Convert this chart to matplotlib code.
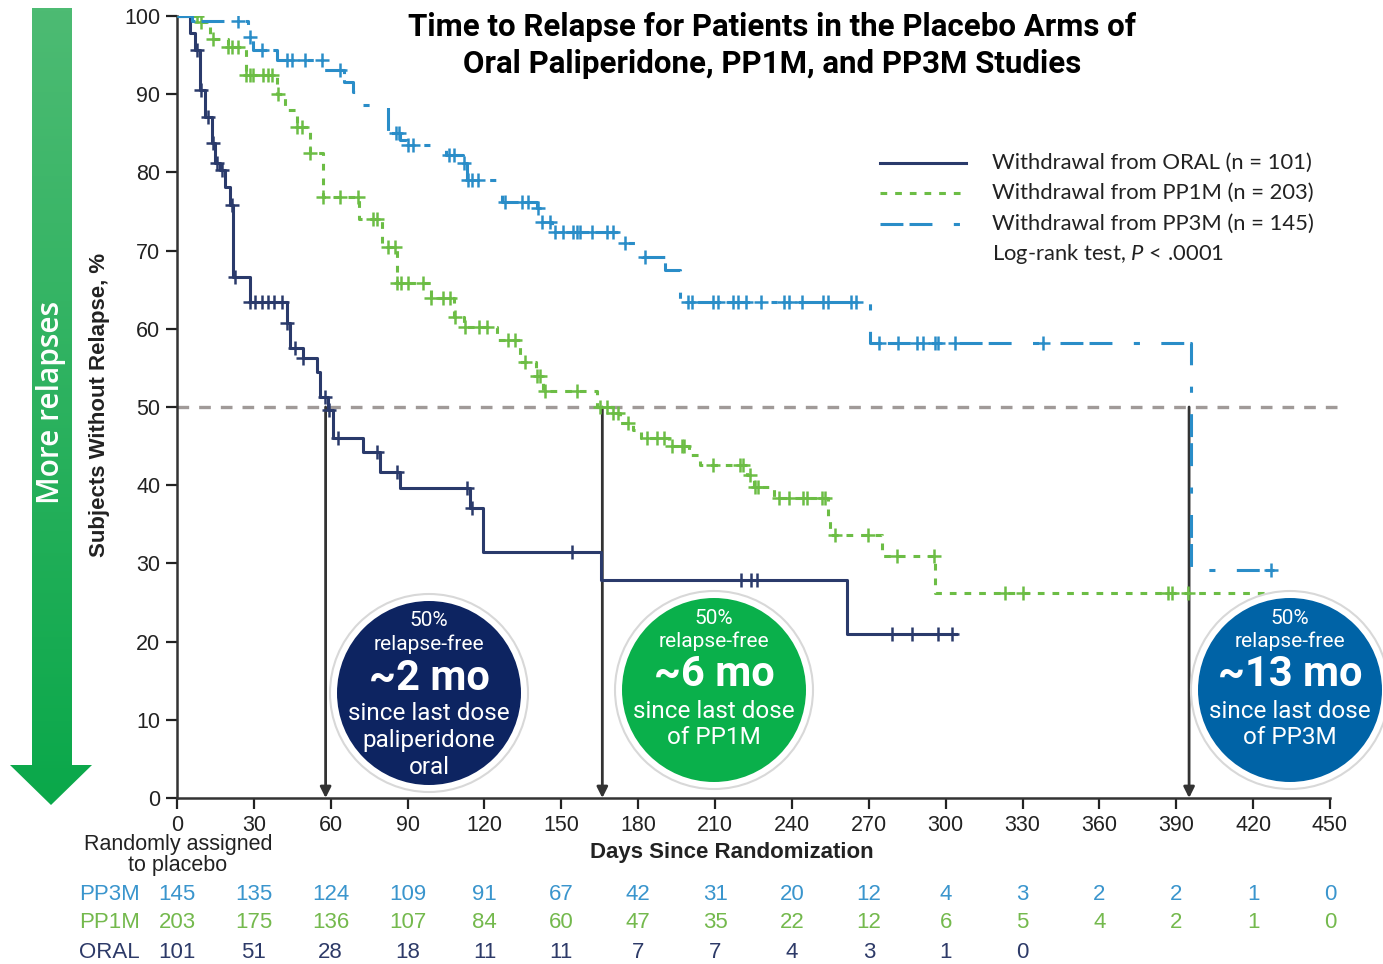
import numpy as np
import matplotlib
matplotlib.use("Agg")
import matplotlib.pyplot as plt
from matplotlib.patches import Circle, Polygon
from matplotlib.transforms import blended_transform_factory

plt.rcParams['font.family'] = ['Liberation Sans', 'DejaVu Sans']
plt.rcParams['mathtext.fontset'] = 'custom'
plt.rcParams['mathtext.it'] = 'Lato:italic'
plt.rcParams['mathtext.rm'] = 'Lato'

# Kaplan-Meier steps (day, % without relapse)
oral_t = [0, 5, 7, 9, 11, 13.6, 14.8, 16.8, 18.7, 20.7, 21.9, 28.5, 43, 44, 49, 54.6, 56, 59, 61,
          72.6, 79.2, 87, 114.4, 119.4, 165.5, 261.5, 304]
oral_s = [100, 97.8, 95.7, 90.5, 87.1, 83.8, 81.2, 80.3, 78.1, 75.8, 66.6, 63.4, 60.7, 57.5, 56.3,
          54.5, 51.3, 49.6, 46.0, 44.2, 41.7, 39.6, 37.1, 31.5, 27.9, 21.0, 21.0]
oral_cens = [7.8, 9.5, 12, 14, 15.5, 17.5, 21.5, 22.5, 28.5, 30.5, 33, 35.5, 38, 41, 43, 46, 49,
             57.8, 59.5, 63, 78, 86, 113, 115, 154, 220, 224, 226.5, 279, 287, 297, 302.5]

pp1m_t = [0, 9, 13, 20, 27, 39, 42, 47, 52, 57, 71, 80, 86, 99, 108, 112, 125, 134, 140, 143, 164,
          170, 173, 178, 181, 192, 200, 204, 222.5, 225, 233, 254, 255, 275, 296, 442]
pp1m_s = [100, 99.2, 97.0, 96.0, 92.5, 90.0, 88.0, 85.8, 82.5, 76.9, 74.0, 70.5, 65.8, 64.0, 61.5,
          60.2, 58.6, 55.8, 54.0, 52.0, 50.0, 49.2, 48.0, 47.0, 46.0, 45.0, 43.8, 42.6, 41.3, 39.8,
          38.4, 36.0, 33.6, 31.0, 26.2, 26.2]
pp1m_cens = [7.8, 9.5, 14, 20, 21.5, 24, 27, 28.5, 29.7, 33.6, 35.5, 37, 39.4, 47, 48.8, 52, 57,
             63.6, 70.7, 76.5, 78, 82.4, 85, 86, 87.5, 90, 96, 99, 104, 106.5, 108.5, 112.4, 118,
             121, 129, 132, 136, 140.5, 141.5, 143.6, 156, 165, 168, 170, 172, 176, 183.5, 187.3,
             190, 193, 197, 198, 209, 219.7, 221, 223.6, 225.6, 226.8, 235, 239, 244.3, 246, 251.8,
             253, 257, 269.7, 281, 295.5, 323, 330, 386.8, 388.4, 394.6]

pp3m_t = [0, 6, 27.7, 29.7, 39, 57, 65, 68.7, 72.6, 82.4, 87, 89.8, 105, 111.6, 113, 127, 140.5,
          141.5, 146.4, 174, 181.5, 190.5, 196.3, 270.5, 395.8, 428]
pp3m_s = [100, 99.3, 97.3, 95.6, 94.4, 93.1, 91.6, 90.3, 88.6, 85.0, 84.1, 83.5, 82.2, 81.2, 79.0,
          76.2, 75.4, 73.7, 72.4, 71.0, 69.2, 67.5, 63.4, 58.2, 29.2, 29.2]
pp3m_cens = [23.8, 28.5, 33, 43, 45, 50, 56.6, 63.6, 85.5, 86.5, 90, 92, 106, 108, 112, 113.5, 115,
             117.5, 128, 134.6, 137, 140.8, 142.5, 145.6, 147.5, 150.7, 154.6, 156, 157.3, 162, 168,
             170, 175, 182.7, 199.5, 201, 209, 211, 217, 219, 222, 228, 237, 239, 244, 252, 254,
             263, 265, 274, 281.5, 289, 291, 296, 297, 303.6, 338, 427]

medians = [58, 166, 395]

risk_days = list(range(0, 451, 30))
risk_pp3m = [145, 135, 124, 109, 91, 67, 42, 31, 20, 12, 4, 3, 2, 2, 1, 0]
risk_pp1m = [203, 175, 136, 107, 84, 60, 47, 35, 22, 12, 6, 5, 4, 2, 1, 0]
risk_oral = [101, 51, 28, 18, 11, 11, 7, 7, 4, 3, 1, 0]

c_oral = '#2a3a6b'
c_pp1m = '#6cbd45'
c_pp3m = '#2a8dc8'
dash_pp1m = (2.2, 2.6)
dash_pp3m = (7.5, 2.0, 7.5, 7.0, 2.0, 7.0)


def surv_at(t, s, x):
    i = np.searchsorted(t, x, side='right') - 1
    return np.asarray(s)[i]


fig = plt.figure(figsize=(13.83, 9.64), dpi=100)
W, H = 1383, 964
ax = fig.add_axes([177 / W, 1 - 798 / H, 1153 / W, 782 / H])

series = [
    (oral_t, oral_s, oral_cens, c_oral, None),
    (pp1m_t, pp1m_s, pp1m_cens, c_pp1m, dash_pp1m),
    (pp3m_t, pp3m_s, pp3m_cens, c_pp3m, dash_pp3m),
]
for t, s, cens, col, dash in series:
    ln, = ax.step(t, s, where='post', color=col, lw=2.2, zorder=3)
    if dash is not None:
        ln.set_dashes(dash)
    ax.plot(cens, surv_at(t, s, cens), ls='none', marker='+', ms=10, mew=1.8,
            color=col, zorder=3)

# 50 % reference line and median arrows
ax.plot([0, 454], [50, 50], color='#a09a98', lw=2.4, dashes=(3.5, 3.0), clip_on=False, zorder=1)
for d in medians:
    ax.annotate('', xy=(d, 0), xytext=(d, 50),
                arrowprops=dict(arrowstyle='-|>', color='#333333', lw=2, mutation_scale=16,
                                shrinkA=0, shrinkB=0), zorder=2)

ax.set_xlim(0, 450)
ax.set_ylim(0, 100)
ax.set_xticks(risk_days)
ax.set_yticks(range(0, 101, 10))
ax.tick_params(labelsize=15.5, length=8, width=1.6, colors='#222222', pad=4)
for side in ['top', 'right']:
    ax.spines[side].set_visible(False)
for side in ['left', 'bottom']:
    ax.spines[side].set_linewidth(1.8)
    ax.spines[side].set_color('#333333')

ax.set_ylabel('Subjects Without Relapse, %', fontsize=16, fontweight='bold', color='#222222')
ax.yaxis.set_label_coords((110 - 177) / 1153, (798 - 405) / 782)
ax.set_xlabel('Days Since Randomization', fontsize=16, fontweight='bold', color='#222222')
ax.xaxis.set_label_coords((732 - 177) / 1153, (798 - 842) / 782)

# number at risk
tr = blended_transform_factory(ax.transData, fig.transFigure)
fig.text(178 / W, 1 - 855 / H, 'Randomly assigned\nto placebo', ha='center', va='center',
         fontsize=15.5, color='#222222', linespacing=0.95)
rows = [('PP3M', risk_pp3m, '#3a95cd', 894), ('PP1M', risk_pp1m, '#74b94d', 923),
        ('ORAL', risk_oral, '#2d3a68', 952)]
for name, vals, col, yp in rows:
    fig.text(79 / W, 1 - yp / H, name, ha='left', va='center', fontsize=16, color=col)
    for d, v in zip(risk_days, vals):
        ax.text(d, 1 - yp / H, str(v), transform=tr, ha='center', va='center', fontsize=16,
                color=col)

# overlay in pixel coordinates for the decorations
ov = fig.add_axes([0, 0, 1, 1], zorder=5)
ov.set_xlim(0, W)
ov.set_ylim(H, 0)
ov.axis('off')
ov.patch.set_alpha(0)

# green arrow with gradient
arrow_pts = [(32, 8), (72, 8), (72, 765), (92, 765), (51, 805), (10, 765), (32, 765)]
poly = Polygon(arrow_pts, closed=True, facecolor='none', edgecolor='none')
ov.add_patch(poly)
grad = np.linspace(0, 1, 256).reshape(-1, 1)
cmap = matplotlib.colors.LinearSegmentedColormap.from_list('g', ['#4dbb73', '#0aa84a'])
im = ov.imshow(grad, extent=[10, 92, 805, 8], cmap=cmap, aspect='auto', zorder=1)
im.set_clip_path(poly)
ov.text(51, 402, 'More relapses', rotation=90, ha='center', va='center', color='white',
        fontsize=21.5, fontweight='semibold', family='Open Sans')

# title
ov.text(772, 27, 'Time to Relapse for Patients in the Placebo Arms of', ha='center',
        va='center', fontsize=22.5, fontweight='bold', family='Roboto', color='black')
ov.text(772, 64, 'Oral Paliperidone, PP1M, and PP3M Studies', ha='center', va='center',
        fontsize=22.5, fontweight='bold', family='Roboto', color='black')

# legend
leg = [(c_oral, None, 'Withdrawal from ORAL (n = 101)', 163),
       (c_pp1m, dash_pp1m, 'Withdrawal from PP1M (n = 203)', 193),
       (c_pp3m, dash_pp3m, 'Withdrawal from PP3M (n = 145)', 224)]
for col, dash, lab, yp in leg:
    ln, = ov.plot([880, 966], [yp, yp], color=col, lw=2.2)
    if dash is not None:
        ln.set_dashes(dash)
    ov.text(992, yp, lab, ha='left', va='center', fontsize=15.8, family='Lato', color='#222222')
ov.text(992, 254, 'Log-rank test, $P$ < .0001', ha='left', va='center', fontsize=15.8,
        family='Lato', color='#222222')

# badges
badges = [
    (429, 693, '#0d2461', ['50%', 'relapse-free', '~2 mo', 'since last dose', 'paliperidone', 'oral']),
    (714, 690, '#0ab04b', ['50%', 'relapse-free', '~6 mo', 'since last dose', 'of PP1M']),
    (1290, 690, '#0063a6', ['50%', 'relapse-free', '~13 mo', 'since last dose', 'of PP3M']),
]
for cx, cy, col, lines in badges:
    ov.add_patch(Circle((cx, cy), 99, facecolor='white', edgecolor='#d8d8d8', lw=1.5, zorder=3))
    ov.add_patch(Circle((cx, cy), 92, facecolor=col, edgecolor='none', zorder=4))
    offs = [-72, -49, -15, 21, 48, 75]
    sizes = [15, 15, 30, 17.5, 17.5, 17.5]
    for k, txt in enumerate(lines):
        ov.text(cx, cy + offs[k], txt, ha='center', va='center', color='white',
                fontsize=sizes[k], fontweight='bold' if k == 2 else 'normal',
                family='Roboto', zorder=5)

fig.savefig('out.png', dpi=100)
